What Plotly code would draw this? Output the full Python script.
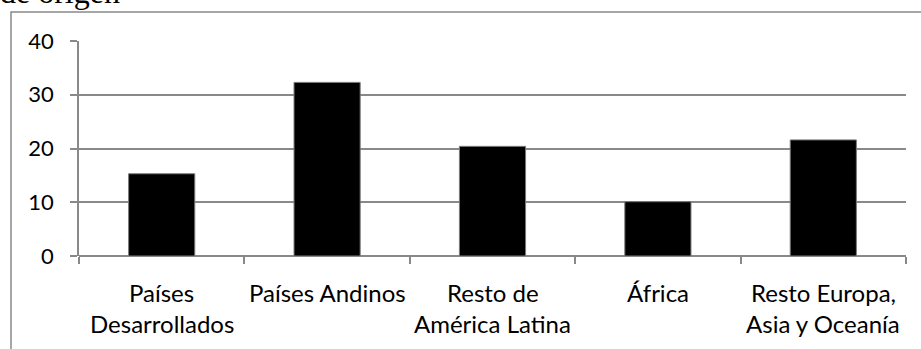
import plotly.graph_objects as go

# Data
categories = ["Países Desarrollados", "Países Andinos", "Resto de América Latina",
              "África", "Resto Europa, Asia y Oceanía"]
label_line1 = ["Países", "Países Andinos", "Resto de", "África", "Resto Europa,"]
label_line2 = ["Desarrollados", "", "América Latina", "", "Asia y Oceanía"]
values = [15.3, 32.3, 20.4, 10.1, 21.6]
y_ticks = [0, 10, 20, 30, 40]

W, H = 921, 349
ML, MR, MT, MB = 79, 15, 41, 93
PW, PH = W - ML - MR, H - MT - MB

GRID = "#898989"
FONT = "Lato"


def px_x(p):
    return (p - ML) / PW


def px_y(p):
    return (H - MB - p) / PH


xs = list(range(len(categories)))

fig = go.Figure(go.Bar(
    x=xs, y=values, width=0.4,
    marker=dict(color="black", line=dict(color="#7a7a7a", width=1)),
    hovertext=categories,
))

fig.update_layout(
    width=W, height=H,
    margin=dict(l=ML, r=MR, t=MT, b=MB),
    paper_bgcolor="white", plot_bgcolor="white",
    showlegend=False,
    font=dict(family=FONT, size=22, color="black"),
    xaxis=dict(
        range=[-0.5, len(categories) - 0.5],
        tickvals=[i - 0.5 for i in range(len(categories) + 1)],
        showticklabels=False, ticks="outside", ticklen=7, tickwidth=1.5,
        tickcolor=GRID, showgrid=False, zeroline=False,
        showline=False,
    ),
    yaxis=dict(
        range=[0, 40], tickvals=y_ticks,
        ticks="outside", ticklen=7, tickwidth=1.5, tickcolor=GRID,
        showline=True, linecolor=GRID, linewidth=1.5,
        showgrid=True, gridcolor=GRID, gridwidth=1.5,
        zeroline=True, zerolinecolor=GRID, zerolinewidth=1.5,
        ticklabelstandoff=12,
        tickfont=dict(family=FONT, size=22, color="black"),
    ),
)

# category labels, two lines each
for i, (a, b) in enumerate(zip(label_line1, label_line2)):
    for txt, ypix in ((a, 292), (b, 323)):
        if txt:
            fig.add_annotation(
                x=i, xref="x", y=px_y(ypix), yref="paper",
                text=txt, showarrow=False, xanchor="center", yanchor="middle",
                font=dict(family=FONT, size=24, color="black"),
            )

# chart frame
fig.add_shape(
    type="rect", xref="paper", yref="paper",
    x0=px_x(11), x1=px_x(W + 20), y0=px_y(H + 20), y1=px_y(12),
    line=dict(color=GRID, width=1.5), fillcolor="rgba(0,0,0,0)", layer="below",
)

# heading text running above the frame
fig.add_annotation(
    x=px_x(-1), xref="paper", y=px_y(11), yref="paper",
    text="de origen", showarrow=False, xanchor="left", yanchor="bottom",
    borderpad=0,
    font=dict(family="Liberation Serif", size=32, color="black"),
)

fig.write_html("out.html")
